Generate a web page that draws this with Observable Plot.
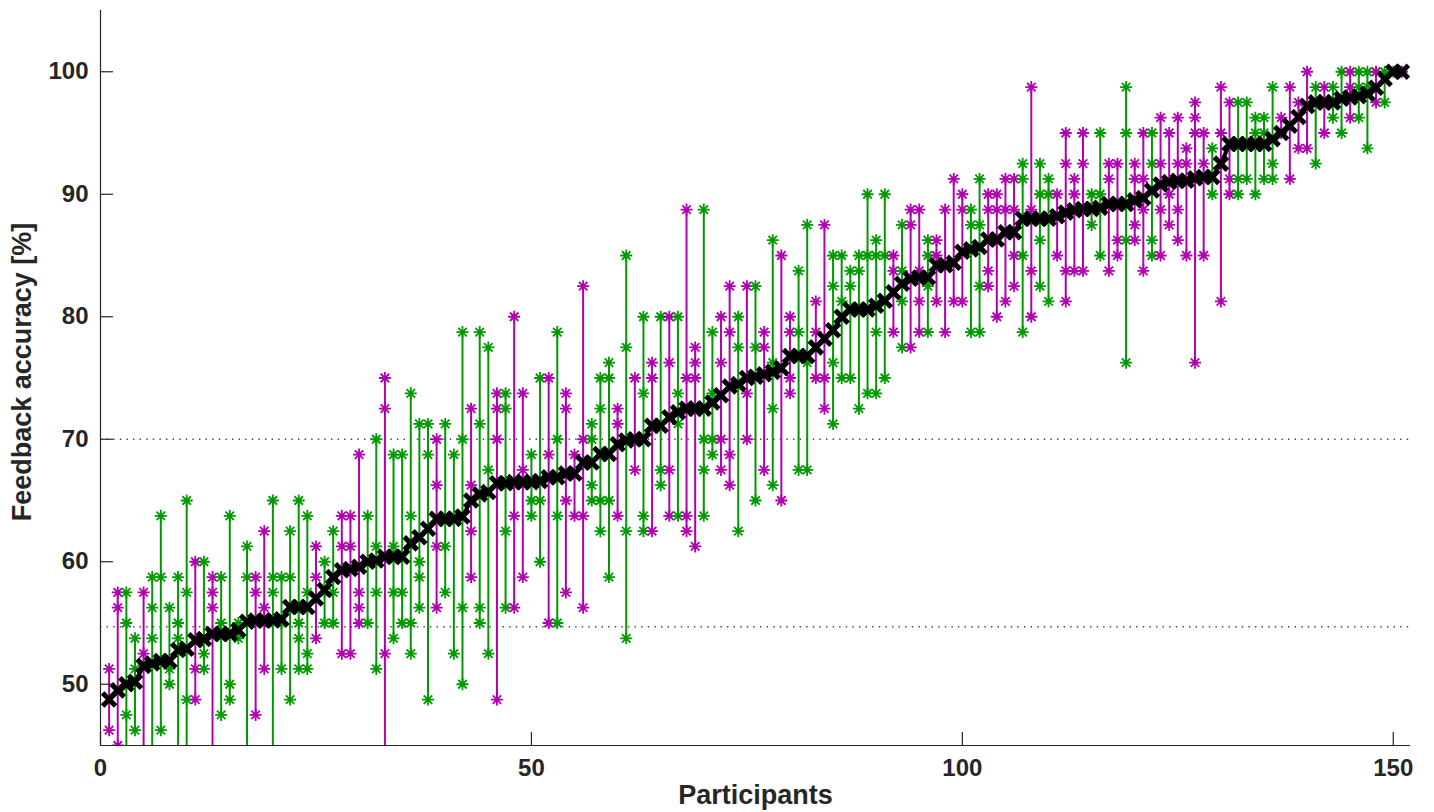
<!DOCTYPE html>
<html><head><meta charset="utf-8">
<script src="https://cdn.jsdelivr.net/npm/d3@7"></script>
<script src="https://cdn.jsdelivr.net/npm/@observablehq/plot@0.6"></script>
<style>html,body{margin:0;padding:0;background:#fff;}</style>
</head><body><div id="chart"></div>
<script>
// Mean feedback accuracy per participant (sorted)
const meanAccuracy = [48.75,49.5,50,50.2,51.5,51.7,51.9,51.9,52.8,52.9,53.6,53.7,54.1,54.1,54.1,54.4,55.1,55.2,55.2,55.2,
55.3,56.3,56.3,56.3,57.0,57.7,58.75,59.3,59.4,59.6,60.0,60.1,60.4,60.4,60.4,61.5,62.0,62.7,63.5,63.5,
63.5,63.7,65.0,65.5,65.7,66.4,66.4,66.5,66.5,66.5,66.6,66.9,66.9,67.2,67.2,68.1,68.1,68.8,68.8,69.6,
69.9,70,70,71.1,71.1,71.8,72.2,72.5,72.5,72.5,73,73.6,74.3,74.5,75,75.1,75.3,75.5,75.8,76.8,
76.8,76.8,77.5,78.2,78.9,80,80.6,80.6,80.6,80.9,81.3,82,82.7,83.1,83.2,83.2,84.2,84.2,84.4,85.3,
85.5,85.7,86.3,86.3,86.9,86.9,88,88,88,88,88.2,88.5,88.7,88.8,88.8,88.9,89.2,89.2,89.2,89.5,
89.7,90.3,90.8,91,91.1,91.1,91.3,91.4,91.4,92.5,94.1,94.1,94.1,94.1,94.1,94.5,95,95.6,96.3,97.2,
97.5,97.5,97.5,97.8,97.9,98,98.2,98.7,99.4,100,100];

// Group of each participant (G = green, M = magenta)
const group = ["M","M","G","G","M","G","G","G","G","G","M","G","M","G","G","G","G","M","M","G",
"G","G","G","G","M","G","G","M","M","M","G","G","M","G","G","G","G","G","M","G",
"G","G","M","G","G","M","G","M","M","G","G","M","G","M","M","M","G","G","G","M",
"G","M","G","M","G","M","G","M","M","G","G","M","M","G","M","G","M","G","M","M",
"G","G","M","M","G","G","G","G","G","G","G","M","G","M","M","G","M","M","M","M",
"G","G","M","M","M","M","G","M","G","G","M","M","M","M","G","G","M","M","G","M",
"M","G","M","M","M","M","M","M","G","M","M","G","G","G","G","G","M","M","M","M",
"G","M","G","G","M","G","G","M","G","G","M"];

// Individual session accuracies per participant (values below 45 leave the axes)
const sessionAccuracy = [
[51.25,46.25],[57.5,56.25,45,40],[57.5,55,47.5,40],[53.75,51.25,46.25],[57.5,52.5,40],
[58.75,56.25,53.75,40],[63.75,58.75,46.25],[56.25,51.25,50],[58.75,55,53.75,40],[65,57.5,48.75,40],
[60,51.25,48.75],[60,52.5,51.25],[58.75,57.5,56.25,40],[58.75,55,47.5],[63.75,50,48.75],
[55,53.75],[61.25,58.75,40],[58.75,57.5,47.5],[62.5,56.25,51.25],[65,58.75,57.5,40],
[58.75,55,51.25],[62.5,58.75,48.75],[65,55,53.75,51.25],[63.75,57.5,52.5,51.25],[61.25,58.75,53.75],
[60,57.5,55],[62.5,57.5,55],[63.75,61.25,52.5],[63.75,61.25,52.5],[68.75,57.5,56.25,55],
[63.75,55],[70,61.25,57.5,51.25],[75,72.5,52.5,40],[68.75,61.25,57.5,53.75],[68.75,57.5,55],
[73.75,63.75,55,52.5],[71.25,60,58.75,56.25],[71.25,68.75,48.75],[70,66.25,61.25,56.25],[71.25,61.25,57.5],
[68.75,52.5],[78.75,70,56.25,50],[72.5,66.25,62.5,58.75],[78.75,71.25,56.25,55],[77.5,67.5,52.5],
[73.75,72.5,70,48.75],[73.75,72.5,62.5,56.25],[80,63.75,56.25],[73.75,67.5,58.75],[68.75,65,63.75],
[75,65,60],[75,68.75,55],[78.75,70,63.75,55],[73.75,72.5,65,57.5],[68.75,63.75],
[82.5,70,63.75,56.25],[71.25,70,66.25,65],[75,72.5,65,62.5],[76.25,75,65,58.75],[72.5,71.25,63.75],
[85,77.5,62.5,53.75],[75,67.5],[80,73.75,63.75,62.5],[76.25,75,62.5],[80,67.5,66.25],
[80,76.25,67.5,63.75],[80,73.75,71.25,63.75],[88.75,75,63.75,62.5],[77.5,76.25,75,61.25],[88.75,70,67.5,63.75],
[78.75,73.75,70,68.75],[80,76.25,70,67.5],[82.5,78.75,68.75,66.25],[80,77.5,62.5],[82.5,73.75,70],
[82.5,77.5,65],[78.75,77.5,67.5],[86.25,76.25,72.5,66.25],[85,65],[80,78.75,75,73.75],
[83.75,78.75,67.5],[87.5,76.25,67.5],[81.25,78.75,75],[87.5,75,72.5],[85,82.5,76.25,71.25],
[85,81.25,75],[83.75,82.5,75],[85,83.75,72.5],[90,85,73.75],[86.25,85,78.75,73.75],
[90,85,75],[85,83.75,78.75],[87.5,83.75,81.25,77.5],[88.75,87.5,77.5],[88.75,83.75,81.25,78.75],
[86.25,85,82.5,78.75],[86.25,85,81.25],[88.75,78.75],[91.25,81.25],[90,88.75,81.25],
[88.75,87.5,78.75],[91.25,87.5,82.5,78.75],[90,88.75,83.75,82.5],[90,88.75,80],[91.25,88.75,81.25],
[91.25,88.75,85,82.5],[92.5,91.25,85,78.75],[98.75,88.75,83.75,80],[92.5,90,86.25,82.5],[91.25,90,81.25],
[90,85],[95,92.5,83.75,81.25],[91.25,90,83.75],[95,92.5,83.75],[90,87.5],
[95,90,85],[92.5,91.25,83.75],[92.5,86.25,85],[98.75,95,86.25,76.25],[92.5,91.25,87.5,86.25],
[95,91.25,88.75,83.75],[95,92.5,86.25,85],[96.25,92.5,88.75,85],[95,90,87.5],[96.25,92.5,88.75,86.25],
[93.75,92.5,85],[97.5,96.25,95,76.25],[95,92.5,85],[93.75,90],[98.75,95,81.25],
[97.5,91.25,90],[97.5,91.25,90],[97.5,91.25],[96.25,95,90],[96.25,95,91.25],
[98.75,92.5,91.25],[96.25,95],[98.75,91.25],[97.5,93.75],[100,93.75],
[98.75,92.5],[98.75,95],[98.75,96.25],[100,95],[100,98.75,96.25],
[100,98.75,96.25],[100,98.75,93.75],[100,97.5],[100,97.5],[100],[100]];

const yTicks = [50,60,70,80,90,100];
const xTicks = [0,50,100,150];
const referenceLines = [70, 54.7];
const groupColors = {domain: ["G","M"], range: ["#009a00","#b000b0"]};

const points = [];
sessionAccuracy.forEach((vals, i) => vals.forEach(v => points.push({participant: i + 1, accuracy: v, group: group[i]})));
const means = meanAccuracy.map((v, i) => ({participant: i + 1, accuracy: v}));

const asterisk = {draw(ctx, size) {
  const r = Math.sqrt(size / Math.PI), d = r * Math.SQRT1_2;
  ctx.moveTo(-r, 0); ctx.lineTo(r, 0);
  ctx.moveTo(0, -r); ctx.lineTo(0, r);
  ctx.moveTo(-d, -d); ctx.lineTo(d, d);
  ctx.moveTo(-d, d); ctx.lineTo(d, -d);
}};
const cross = {draw(ctx, size) {
  const r = Math.sqrt(size / Math.PI);
  ctx.moveTo(-r, -r); ctx.lineTo(r, r);
  ctx.moveTo(-r, r); ctx.lineTo(r, -r);
}};

const axisColor = "#262626";

const chart = Plot.plot({
  width: 1434,
  height: 812,
  marginTop: 10,
  marginBottom: 67,
  marginLeft: 100,
  marginRight: 24,
  style: {fontFamily: "'Liberation Sans', Arial, sans-serif", fontSize: "24px", fontWeight: "bold", color: axisColor, background: "#fff"},
  x: {domain: [0, 152]},
  y: {domain: [45, 105]},
  color: groupColors,
  marks: [
    Plot.ruleY(referenceLines, {stroke: "#444", strokeWidth: 1.4, strokeDasharray: "1.4,5.2"}),
    Plot.line(points, {x: "participant", y: "accuracy", z: "participant", stroke: "group", strokeWidth: 2, clip: true}),
    Plot.dot(points, {x: "participant", y: "accuracy", stroke: "group", symbol: asterisk, r: 6, fill: "none", strokeWidth: 1.8, clip: true}),
    Plot.line(means, {x: "participant", y: "accuracy", stroke: "#000", strokeWidth: 4}),
    Plot.dot(means, {x: "participant", y: "accuracy", stroke: "#000", symbol: cross, r: 6.5, fill: "none", strokeWidth: 5}),
    Plot.ruleX([0], {stroke: axisColor, strokeWidth: 1.2}),
    Plot.ruleY([45], {stroke: axisColor, strokeWidth: 1.2}),
    Plot.ruleY(yTicks, {x1: 0, x2: 1.5, stroke: axisColor, strokeWidth: 1.2}),
    Plot.ruleX(xTicks, {y1: 45, y2: 46.06, stroke: axisColor, strokeWidth: 1.2}),
    Plot.axisY(yTicks, {tickSize: 0, tickPadding: 12, label: null, fill: axisColor}),
    Plot.axisX(xTicks, {tickSize: 0, tickPadding: 13, label: null, fill: axisColor}),
    Plot.text(["Participants"], {text: d => d, frameAnchor: "bottom", dy: 58, fontSize: 27, fill: axisColor}),
    Plot.text(["Feedback accuracy [%]"], {text: d => d, frameAnchor: "left", textAnchor: "middle", dx: -78, dy: -6, rotate: -90, fontSize: 27, fill: axisColor})
  ]
});
document.getElementById("chart").appendChild(chart);
</script>
</body></html>
